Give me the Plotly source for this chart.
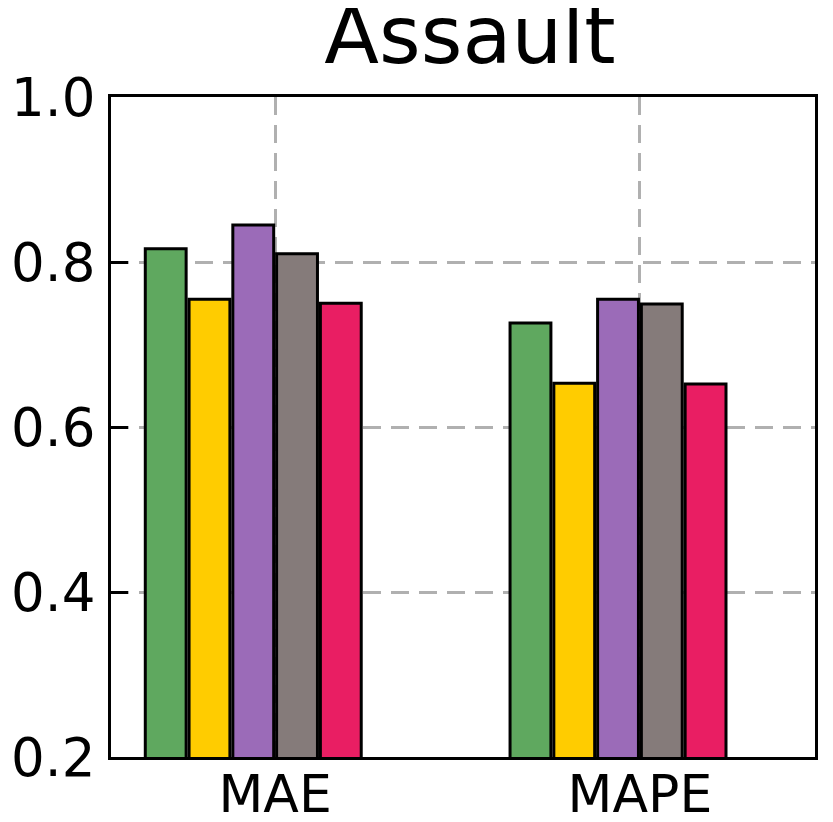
import plotly.graph_objects as go

categories = ["MAE", "MAPE"]
series_names = ["Model 1", "Model 2", "Model 3", "Model 4", "Model 5"]
series_values = [
    [0.816, 0.726],
    [0.755, 0.653],
    [0.845, 0.755],
    [0.810, 0.749],
    [0.750, 0.652],
]
colors = ["#5FA85F", "#FFCC00", "#9B6BB8", "#857B7A", "#E91E63"]
y_ticks = [0.2, 0.4, 0.6, 0.8, 1.0]

step = 0.12
width = 0.112
offsets = [(i - 2) * step - step / 2 for i in range(len(series_names))]

fig = go.Figure()
for name, vals, col, off in zip(series_names, series_values, colors, offsets):
    fig.add_trace(go.Bar(
        x=[i + off for i in range(len(categories))],
        y=vals,
        width=width,
        name=name,
        marker=dict(color=col, line=dict(color="black", width=3)),
        showlegend=False,
    ))

W, H = 825, 814
fig.update_layout(
    width=W, height=H,
    margin=dict(l=103, r=18, t=89, b=65, autoexpand=False),
    paper_bgcolor="white", plot_bgcolor="white",
    barmode="overlay",
    font=dict(family="DejaVu Sans", color="black", size=52),
    title=dict(text="Assault", x=0.560, xanchor="center",
               y=(H - 55) / H, yanchor="bottom", yref="container",
               font=dict(size=80, family="DejaVu Sans", color="black")),
)
fig.update_xaxes(
    range=[-0.45, 1.48], automargin=False,
    tickvals=list(range(len(categories))), ticktext=categories,
    showline=True, linecolor="black", linewidth=3, mirror=True,
    showgrid=True, gridcolor="#b0b0b0", gridwidth=3, griddash="18px,10px",
    ticks="", tickfont=dict(size=52), zeroline=False, ticklabelstandoff=-10,
)
fig.update_yaxes(
    range=[0.2, 1.0], automargin=False,
    tickvals=y_ticks, ticktext=[f"{v:.1f}" for v in y_ticks],
    showline=True, linecolor="black", linewidth=3, mirror=True,
    showgrid=True, gridcolor="#b0b0b0", gridwidth=3, griddash="18px,10px",
    ticks="inside", ticklen=17, tickwidth=3, tickcolor="black",
    tickfont=dict(size=53), zeroline=False, ticklabelstandoff=2,
)
fig.write_html("out.html")
